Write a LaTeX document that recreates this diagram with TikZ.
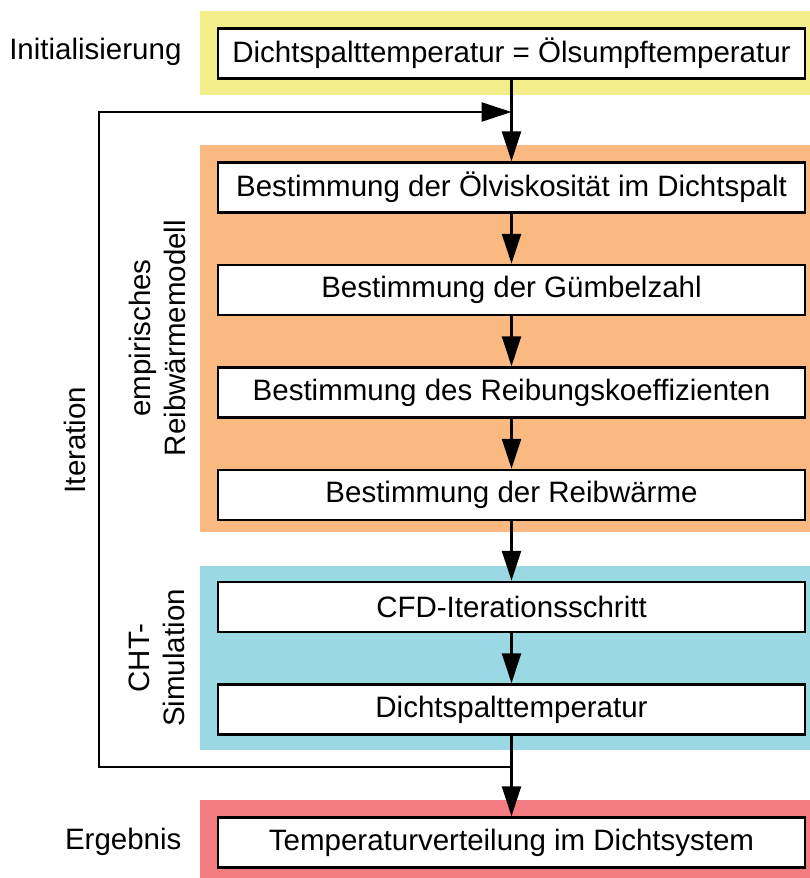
\documentclass[tikz,border=0pt]{standalone}
\usepackage{fontspec}
\setmainfont{Liberation Sans}
\usetikzlibrary{positioning,arrows.meta}

\definecolor{initgelb}{RGB}{243,238,138}
\definecolor{modellorange}{RGB}{250,185,129}
\definecolor{chtblau}{RGB}{154,216,228}
\definecolor{ergebnisrot}{RGB}{242,124,128}

\begin{document}
\begin{tikzpicture}[x=1pt,y=-1pt,font=\fontsize{29.5}{35}\selectfont]
	\tikzstyle{schritt}=[draw,rectangle,line width=2.5pt,fill=white,minimum width=587pt,minimum height=50pt,inner sep=0pt]
	\tikzstyle{pfeil}=[line width=2.5pt,-{Triangle[length=30pt,width=19pt]}]
	\tikzstyle{linie}=[line width=2.5pt]
	
	\useasboundingbox (0,0) rectangle (810,878);
	
	% Hintergruende
	\fill[initgelb] (200,11) rectangle (810,95);
	\fill[modellorange] (200,145) rectangle (810,532);
	\fill[chtblau] (200,566) rectangle (810,750);
	\fill[ergebnisrot] (200,800) rectangle (810,878);
	
	% Schritte
	\node[schritt] (init) at (511.5,53.5) {Dichtspalttemperatur = Ölsumpftemperatur};
	\node[schritt] (visk) at (511.5,187.5) {Bestimmung der Ölviskosität im Dichtspalt};
	\node[schritt,below=50pt of visk] (guembel) {Bestimmung der Gümbelzahl};
	\node[schritt,below=50pt of guembel] (reibkoeff) {Bestimmung des Reibungskoeffizienten};
	\node[schritt,below=50pt of reibkoeff] (reibwaerme) {Bestimmung der Reibwärme};
	\node[schritt] (cfd) at (511.5,607) {CFD-Iterationsschritt};
	\node[schritt,below=50pt of cfd] (spalt) {Dichtspalttemperatur};
	\node[schritt] (ergebnis) at (511.5,842.5) {Temperaturverteilung im Dichtsystem};
	
	% Beschriftungen
	\node[anchor=east] (initlabel) at (185,52) {Initialisierung};
	\node[anchor=east] (ergebnislabel) at (185,842) {Ergebnis};
	\node[rotate=90] (iterlabel) at (75,440) {Iteration};
	\node[rotate=90,align=center] (modelllabel) at (157,338) {empirisches\\Reibwärmemodell};
	\node[rotate=90,align=center] (chtlabel) at (157,658) {CHT-\\Simulation};
	
	% Rueckfuehrung
	\coordinate (oben) at (init.south |- 0,112);
	\coordinate (unten) at (init.south |- 0,767);
	\coordinate (linksoben) at (99,112);
	\coordinate (linksunten) at (99,767);
	
	\draw[linie] (init.south) -- (oben);
	\draw[pfeil] (oben) -- (visk.north);
	\draw[pfeil] (visk) -- (guembel);
	\draw[pfeil] (guembel) -- (reibkoeff);
	\draw[pfeil] (reibkoeff) -- (reibwaerme);
	\draw[pfeil] (reibwaerme) -- (cfd);
	\draw[pfeil] (cfd) -- (spalt);
	\draw[pfeil] (spalt) -- (ergebnis);
	\draw[pfeil] (unten) -- (linksunten) -- (linksoben) -- (oben);
\end{tikzpicture}
\end{document}
